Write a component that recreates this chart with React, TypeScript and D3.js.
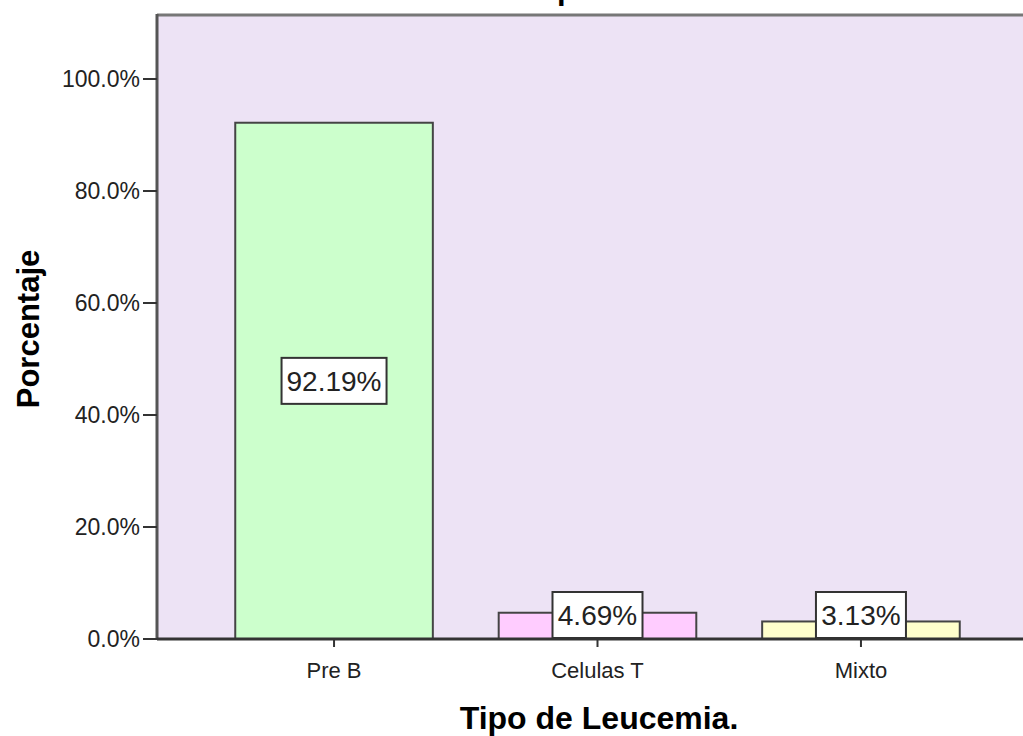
import React from "react";
import * as d3 from "d3";

const categories = ["Pre B", "Celulas T", "Mixto"];
const values = [92.19, 4.69, 3.13];
const valueLabels = ["92.19%", "4.69%", "3.13%"];
const barColors = ["#CCFFCC", "#FFCCFF", "#FFFFCC"];
const yTicks = [0, 20, 40, 60, 80, 100];
const chartTitle = "Tipo de Leucemia";
const xTitle = "Tipo de Leucemia.";
const yTitle = "Porcentaje";

const W = 1023;
const H = 736;
const left = 157;
const top = 15;
const bottom = 639;
const rightRange = 1038;

export default function App() {
  const y = d3.scaleLinear().domain([0, 100]).range([bottom, 79]);
  const x = d3
    .scaleBand<string>()
    .domain(categories)
    .range([left, rightRange])
    .paddingInner(0.25)
    .paddingOuter(0.297);
  const bw = x.bandwidth();
  const font = "'Liberation Sans', Arial, sans-serif";
  const boxH = 46;
  const boxW = [105, 90, 90];

  return (
    <svg
      width={W}
      height={H}
      style={{ position: "fixed", left: 0, top: 0, background: "#fff" }}
      fontFamily={font}
    >
      <text x={530} y={-1} fontSize={31} fontWeight="bold" fill="#000">
        {chartTitle}
      </text>
      <rect x={left} y={top} width={W - left + 5} height={bottom - top} fill="#EDE3F5" />
      <line x1={left} x2={W} y1={top} y2={top} stroke="#777" strokeWidth={3} />
      {categories.map((c, i) => {
        const bx = x(c)!;
        const by = y(values[i]);
        const cx = bx + bw / 2;
        const mid = (by + bottom) / 2;
        const cy = Math.min(mid, bottom - boxH / 2 - 1);
        return (
          <g key={c}>
            <rect
              x={bx}
              y={by}
              width={bw}
              height={bottom - by}
              fill={barColors[i]}
              stroke="#444"
              strokeWidth={2}
            />
            <rect
              x={cx - boxW[i] / 2}
              y={cy - boxH / 2}
              width={boxW[i]}
              height={boxH}
              fill="#fff"
              stroke="#333"
              strokeWidth={2}
            />
            <text x={cx} y={cy} dy="0.36em" textAnchor="middle" fontSize={28} fill="#222">
              {valueLabels[i]}
            </text>
            <line x1={cx} x2={cx} y1={bottom} y2={bottom + 8} stroke="#333" strokeWidth={2} />
            <text x={cx} y={678} textAnchor="middle" fontSize={22} fill="#222">
              {c}
            </text>
          </g>
        );
      })}
      <line x1={left} x2={left} y1={top - 1} y2={bottom + 1} stroke="#555" strokeWidth={3} />
      <line x1={left} x2={W} y1={bottom} y2={bottom} stroke="#333" strokeWidth={3} />
      {yTicks.map((t) => (
        <g key={t}>
          <line x1={left - 14} x2={left} y1={y(t)} y2={y(t)} stroke="#333" strokeWidth={2} />
          <text x={140} y={y(t)} dy="0.36em" textAnchor="end" fontSize={23} fill="#222">
            {d3.format(".1f")(t) + "%"}
          </text>
        </g>
      ))}
      <text x={599} y={729} textAnchor="middle" fontSize={32} fontWeight="bold" fill="#000">
        {xTitle}
      </text>
      <text
        transform="translate(39,329) rotate(-90)"
        textAnchor="middle"
        fontSize={31}
        fontWeight="bold"
        fill="#000"
      >
        {yTitle}
      </text>
    </svg>
  );
}
